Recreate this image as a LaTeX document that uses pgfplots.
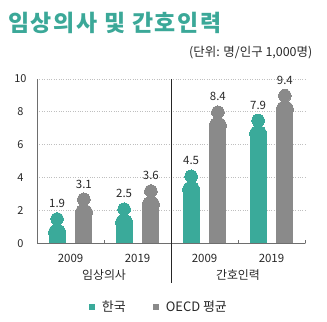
\documentclass[border=0pt]{standalone}
\usepackage{pgfplots}
\usepackage{pgfplotstable}
\pgfplotsset{compat=1.18}
\usepackage{fontspec}
\setmainfont{Noto Sans CJK KR}
\definecolor{kteal}{RGB}{58,170,154}
\definecolor{kgray}{RGB}{138,138,138}
\definecolor{ttl}{RGB}{59,168,152}
\definecolor{axc}{RGB}{110,110,110}
\definecolor{txt}{RGB}{40,40,40}

\pgfplotstableread{
x v
-0.2 1.9
0.8 2.5
1.8 4.5
2.8 7.9
}\korea
\pgfplotstableread{
x v
0.2 3.1
1.2 3.6
2.2 8.4
3.2 9.4
}\oecd

\begin{document}
\begin{tikzpicture}
\begin{axis}[
 at={(37bp,-243.3bp)}, anchor=south west,
 scale only axis, width=268bp, height=164.3bp,
 xmin=-0.5, xmax=3.5, ymin=0, ymax=10,
 clip=false,
 axis lines=left, axis line style={-, draw=axc, line width=0.9bp},
 xtick={0,1,2,3}, xticklabels={2009,2019,2009,2019},
 x tick label style={anchor=center, yshift=-12.7bp, font=\fontsize{11.5}{12}\selectfont, text=txt},
 major x tick style={draw=none},
 extra x ticks={0.5,2.5,3.5}, extra x tick labels={},
 extra x tick style={major x tick style={draw=axc,line width=0.8bp}, major tick length=3bp, tick align=inside},
 ytick={0,2,...,10},
 y tick label style={anchor=center, xshift=-14.5bp, font=\fontsize{11}{12}\selectfont, text=txt},
 /pgf/number format/assume math mode=true,
 major y tick style={draw=none},
 ymajorgrids, grid style={dotted, line width=0.8bp, color=gray!50},
 legend style={at={(axis description cs:0.455,-0.386)}, anchor=center, draw=none, fill=none,
   legend columns=2, font=\fontsize{13}{14}\selectfont, text=txt,
   /tikz/every even column/.append style={column sep=25bp}},
 every node near coord/.append style={anchor=center, yshift=15.3bp, font=\fontsize{11.5}{12}\selectfont, text=txt},
]
% bodies
\addplot[forget plot, ycomb, color=kteal, line width=17bp, no markers] table[x=x, y expr=\thisrow{v}-1.24]{\korea};
\addplot[forget plot, ycomb, color=kgray, line width=17bp, no markers] table[x=x, y expr=\thisrow{v}-1.24]{\oecd};
% shoulders
\addplot[forget plot, only marks, color=kteal, line width=0pt, mark=*, mark size=8.5bp, mark options={solid, draw=kteal, fill=kteal, line width=0pt}] table[x=x, y expr=\thisrow{v}-1.24]{\korea};
\addplot[forget plot, only marks, color=kgray, line width=0pt, mark=*, mark size=8.5bp, mark options={solid, draw=kgray, fill=kgray, line width=0pt}] table[x=x, y expr=\thisrow{v}-1.24]{\oecd};
% heads with labels
\addplot[forget plot, only marks, color=kteal, line width=0pt, mark=*, mark size=6.3bp, mark options={solid, draw=kteal, fill=kteal, line width=0pt},
  point meta=explicit, nodes near coords={\pgfmathprintnumber[fixed,fixed zerofill,precision=1,assume math mode=true]{\pgfplotspointmeta}}]
  table[x=x, y expr=\thisrow{v}-0.42, meta=v]{\korea};
\addplot[forget plot, only marks, color=kgray, line width=0pt, mark=*, mark size=6.3bp, mark options={solid, draw=kgray, fill=kgray, line width=0pt},
  point meta=explicit, nodes near coords={\pgfmathprintnumber[fixed,fixed zerofill,precision=1,assume math mode=true]{\pgfplotspointmeta}}]
  table[x=x, y expr=\thisrow{v}-0.42, meta=v]{\oecd};

\draw[axc, line width=0.9bp] (axis cs:-0.5,0) -- (axis cs:3.5,0);
\draw[black!85, line width=0.8bp] (axis cs:1.5,10) -- ([yshift=-40bp]axis cs:1.5,0);
\node[font=\fontsize{12}{13}\selectfont, text=txt] at ([yshift=-31.7bp]axis cs:0.5,0) {임상의사};
\node[font=\fontsize{12}{13}\selectfont, text=txt] at ([yshift=-31.7bp]axis cs:2.5,0) {간호인력};

\addlegendimage{legend image code/.code={\path[draw=none,fill=none] (0bp,0bp) -- (11bp,0bp); \fill[kteal,draw=none] (0bp,-3.2bp) rectangle (6.5bp,3.2bp);}}
\addlegendentry{한국}
\addlegendimage{legend image code/.code={\path[draw=none,fill=none] (0bp,0bp) -- (11bp,0bp); \fill[kgray,draw=none] (0bp,-3.2bp) rectangle (6.5bp,3.2bp);}}
\addlegendentry{OECD 평균}
\end{axis}
\node[anchor=base west, inner sep=0, font=\fontsize{23}{25}\selectfont\bfseries\addfontfeatures{LetterSpace=7}, text=ttl] at (8bp,-31.5bp) {임상의사 및 간호인력};
\node[anchor=base east, inner sep=0, font=\fontsize{12.5}{13}\selectfont, text=txt] at (312.5bp,-56.5bp) {(단위: 명/인구 1,000명)};
\pgfresetboundingbox
\useasboundingbox (0,0) rectangle (327bp,-322bp);
\end{tikzpicture}
\end{document}
